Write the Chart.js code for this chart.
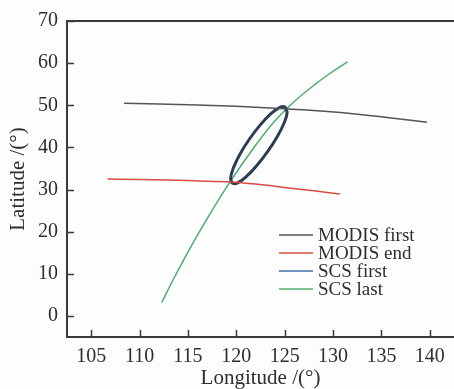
<!DOCTYPE html>
<html>
<head>
<meta charset="utf-8">
<script src="https://cdn.jsdelivr.net/npm/chart.js@4.4.0/dist/chart.umd.min.js"></script>
<style>
  html, body { margin: 0; padding: 0; background: #fdfdfd; }
  canvas { display: block; }
</style>
</head>
<body>
<canvas id="chart" width="454" height="389"></canvas>
<script>
// tick labels
var xTicks = [105, 110, 115, 120, 125, 130, 135, 140];
var yTicks = [0, 10, 20, 30, 40, 50, 60, 70];

// series (longitude / latitude)
var modisFirstLon = [108.4, 112, 116, 120, 124, 128, 132, 136, 139.7];
var modisFirstLat = [50.45, 50.3, 50.05, 49.75, 49.3, 48.75, 48.0, 47.0, 45.95];

var modisEndLon = [106.7, 110, 113, 116, 119.4, 122, 125.2, 128, 130.7];
var modisEndLat = [32.5, 32.4, 32.25, 32.05, 31.8, 31.3, 30.45, 29.7, 28.95];

// closed outline, first points repeated at the end
var scsFirstLon = [125.03, 125.25, 124.95, 124.24, 123.25, 122.12, 121.05, 120.18, 119.62,
                   119.42, 119.72, 120.40, 121.38, 122.50, 123.58, 124.46, 125.03, 125.25];
var scsFirstLat = [49.56, 48.25, 45.85, 42.60, 39.05, 35.70, 33.10, 31.62, 31.50,
                   32.80, 35.25, 38.50, 42.05, 45.40, 48.00, 49.44, 49.56, 48.25];

var scsLastLon = [112.3, 113.5, 115.2, 117.3, 119.2, 121.9, 124.0, 126.0, 128.0, 129.7, 131.5];
var scsLastLat = [3.2, 8.7, 16.0, 24.3, 31.3, 40.2, 46.3, 50.9, 54.7, 57.6, 60.3];

var seriesNames = ["MODIS first", "MODIS end", "SCS first", "SCS last"];
var lineColors = ["#555555", "#dc4a44", "#2c3e55", "#4cae6e"];
var legendColors = ["#555555", "#dc4a44", "#3d6fa8", "#4cae6e"];

function toPoints(xs, ys) {
    return xs.map(function (x, i) { return {x: x, y: ys[i]}; });
}

var serif = "'Liberation Serif', 'DejaVu Serif', serif";
var ink = "#2e2e2e";

var framePlugin = {
    id: 'frame',
    afterDraw: function (chart) {
        var ctx = chart.ctx;
        var area = chart.chartArea;
        var xs = chart.scales.x, ys = chart.scales.y;
        ctx.save();
        ctx.strokeStyle = "#3a3a3a";
        ctx.lineWidth = 2;
        ctx.beginPath();
        ctx.moveTo(area.left - 1, area.top);
        ctx.lineTo(area.right, area.top);
        ctx.stroke();
        ctx.lineWidth = 1.5;
        ctx.beginPath();
        xs.ticks.forEach(function (t) {
            var px = Math.round(xs.getPixelForValue(t.value)) + 0.5;
            ctx.moveTo(px, area.bottom);
            ctx.lineTo(px, area.bottom - 7);
        });
        ys.ticks.forEach(function (t) {
            var py = Math.round(ys.getPixelForValue(t.value)) + 0.5;
            ctx.moveTo(area.left, py);
            ctx.lineTo(area.left + 7, py);
        });
        ctx.stroke();

        // legend inside the plot
        ctx.font = "19px " + serif;
        ctx.textBaseline = "middle";
        ctx.fillStyle = ink;
        var lx = area.left + 212, ly = area.top + 214;
        seriesNames.forEach(function (name, i) {
            var y = ly + i * 18;
            ctx.strokeStyle = legendColors[i];
            ctx.lineWidth = 1.5;
            ctx.beginPath();
            ctx.moveTo(lx, y);
            ctx.lineTo(lx + 34, y);
            ctx.stroke();
            ctx.fillText(name, lx + 39, y + 1);
        });
        ctx.restore();
    }
};

var ctx = document.getElementById("chart");

var myChart = new Chart(ctx, {
    type: 'scatter',
    data: {
        datasets: [
            {label: seriesNames[0], data: toPoints(modisFirstLon, modisFirstLat), borderColor: lineColors[0], borderWidth: 1.5, cubicInterpolationMode: 'monotone'},
            {label: seriesNames[1], data: toPoints(modisEndLon, modisEndLat), borderColor: lineColors[1], borderWidth: 1.5, cubicInterpolationMode: 'monotone'},
            {label: seriesNames[2], data: toPoints(scsFirstLon, scsFirstLat), borderColor: lineColors[2], borderWidth: 3, tension: 0.4},
            {label: seriesNames[3], data: toPoints(scsLastLon, scsLastLat), borderColor: lineColors[3], borderWidth: 1.5, cubicInterpolationMode: 'monotone'}
        ]
    },
    options: {
        responsive: false,
        animation: false,
        devicePixelRatio: 1,
        showLine: true,
        elements: { point: { radius: 0, hoverRadius: 0 } },
        layout: { padding: { top: 21, right: 0, left: 0, bottom: 0 } },
        plugins: {
            legend: { display: false },
            tooltip: { enabled: false }
        },
        scales: {
            x: {
                type: 'linear',
                min: 102.5,
                max: 142.5,
                afterFit: function (s) { s.height = 52; },
                afterBuildTicks: function (s) { s.ticks = xTicks.map(function (v) { return {value: v}; }); },
                grid: { display: false, drawTicks: false },
                border: { display: true, color: "#3a3a3a", width: 2 },
                ticks: { padding: 8, color: ink, font: { family: serif, size: 20 }, maxRotation: 0 },
                title: { display: true, text: "Longitude /(°)", color: ink, font: { family: serif, size: 21 }, padding: { top: 0, bottom: -2 } }
            },
            y: {
                type: 'linear',
                min: -5,
                max: 70,
                afterFit: function (s) { s.width = 67; },
                afterBuildTicks: function (s) { s.ticks = yTicks.map(function (v) { return {value: v}; }); },
                grid: { display: false, drawTicks: false },
                border: { display: true, color: "#3a3a3a", width: 2 },
                ticks: { padding: 9, color: ink, font: { family: serif, size: 20 } },
                title: { display: true, text: "Latitude /(°)", color: ink, font: { family: serif, size: 21 }, padding: { top: 6, bottom: 0 } }
            }
        }
    },
    plugins: [framePlugin]
});
</script>
</body>
</html>
